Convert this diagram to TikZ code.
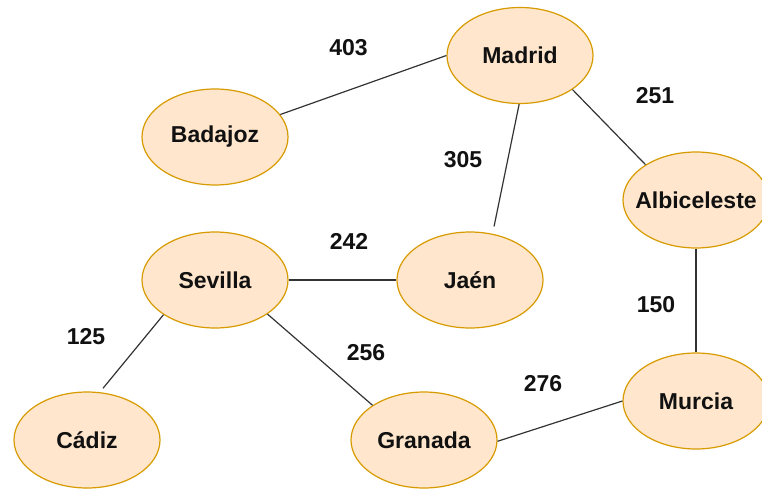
\documentclass[tikz,border=0pt]{standalone}
\usepackage{fontspec}
\setmainfont{Liberation Sans}
\usetikzlibrary{shapes.geometric}
\definecolor{cityfill}{HTML}{FFE6CC}
\definecolor{cityline}{HTML}{D79B00}
\definecolor{roadline}{HTML}{333333}
\definecolor{txt}{HTML}{111111}
% keep every ellipse the same size, whatever the length of its name
\newcommand\cityname[1]{\makebox[0pt]{#1}}
\begin{document}
\begin{tikzpicture}[x=1pt,y=-1pt,
  city/.style={ellipse, draw=cityline, fill=cityfill, line width=1.2pt,
    minimum width=146pt, minimum height=96pt, inner sep=0pt,
    text=txt, font=\fontsize{23}{27}\selectfont\bfseries},
  road/.style={draw=roadline, line width=1.2pt},
  dist/.style={text=txt, inner sep=0pt, font=\fontsize{23}{27}\selectfont\bfseries}]
\useasboundingbox (0,0) rectangle (762,489);
\begin{scope}
\clip (0,0) rectangle (762,489);
% cities
\node[city] (madrid) at (520,55.5) {\cityname{Madrid}};
\node[city] (badajoz) at (215,137) {\cityname{Badajoz}};
\node[city] (albiceleste) at (696,200) {\cityname{Albiceleste}};
\node[city] (sevilla) at (215,280) {\cityname{Sevilla}};
\node[city] (jaen) at (470,280) {\cityname{Jaén}};
\node[city] (cadiz) at (87,440) {\cityname{Cádiz}};
\node[city] (granada) at (424,440) {\cityname{Granada}};
\node[city] (murcia) at (696,401) {\cityname{Murcia}};
% roads
\draw[road] (badajoz.19) -- (madrid.180);
\draw[road] (madrid.-33) -- (albiceleste.145.5);
\draw[road, shorten >=7.5pt] (madrid.-91) -- (jaen.64);
\draw[road] (sevilla.0) -- (jaen.180);
\draw[road] (albiceleste.-90) -- (murcia.90);
\draw[road, shorten >=5pt] (sevilla.214) -- (cadiz.75);
\draw[road] (sevilla.-33) -- (granada.146.8);
\draw[road] (granada.-1) -- (murcia.180);
% distances
\node[dist] (d403) at (348.5,47.5) {403};
\node[dist] (d305) at (463,160) {305};
\node[dist] (d251) at (655,95.5) {251};
\node[dist] (d242) at (349,241) {242};
\node[dist] (d150) at (656,305) {150};
\node[dist] (d125) at (86,337) {125};
\node[dist] (d256) at (366,353) {256};
\node[dist] (d276) at (543,384) {276};
\end{scope}
\end{tikzpicture}
\end{document}
